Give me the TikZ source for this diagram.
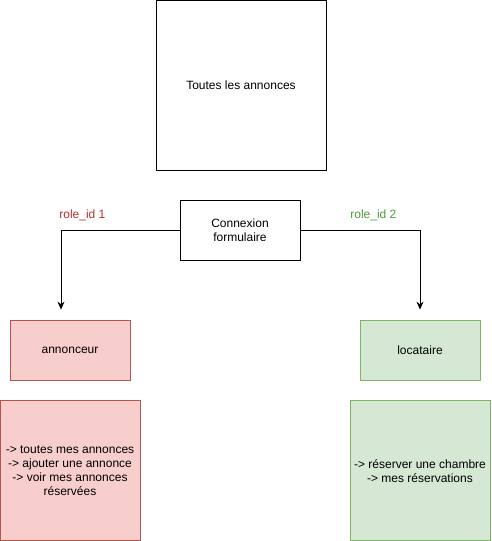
\documentclass[tikz,border=0pt]{standalone}
\usepackage{fontspec}
\setmainfont{Liberation Sans}
\usepackage{tikz}
\usetikzlibrary{positioning, arrows.meta}
\definecolor{redfill}{HTML}{F8CECC}
\definecolor{redline}{HTML}{B85450}
\definecolor{redtext}{HTML}{B5312C}
\definecolor{greenfill}{HTML}{D5E8D4}
\definecolor{greenline}{HTML}{82B366}
\definecolor{greentext}{HTML}{4D9A3A}
\tikzset{x=1pt, y=-1pt,
box/.style={draw, line width=0.8pt, align=center, font=\fontsize{12}{14}\selectfont,
  inner sep=0pt},
redbox/.style={box, draw=redline, fill=redfill},
greenbox/.style={box, draw=greenline, fill=greenfill},
link/.style={-{Stealth[length=8pt,width=7pt]}, line width=0.8pt, shorten >=10pt},
lbl/.style={font=\fontsize{12}{14}\selectfont, above=5pt}}

\begin{document}
\begin{tikzpicture}
\useasboundingbox (0,0) rectangle (491,541);
\node[box,minimum width=170pt,minimum height=170pt] (T) at (241,85) {Toutes les annonces};
\node[box,minimum width=120pt,minimum height=60pt] (C) at (240,230) {Connexion\\formulaire};
\node[redbox,minimum width=120pt,minimum height=60pt] (A) at (70,350) {annonceur};
\node[greenbox,minimum width=120pt,minimum height=60pt] (L) at (420,350) {locataire};
\node[redbox,minimum width=140pt,minimum height=140pt,below=20pt of A] (AM)
  {{-}> toutes mes annonces\\{-}> ajouter une annonce\\{-}> voir mes annonces\\r\'eserv\'ees};
\node[greenbox,minimum width=140pt,minimum height=140pt,below=20pt of L] (LM)
  {{-}> r\'eserver une chambre\\{-}> mes r\'eservations};
\draw[link] (C.west) -| node[lbl,pos=0.41,text=redtext]{role\_id 1} (A.north -| 61,0);
\draw[link] (C.east) -| node[lbl,pos=0.305,text=greentext]{role\_id 2} (L.north);
\end{tikzpicture}
\end{document}
